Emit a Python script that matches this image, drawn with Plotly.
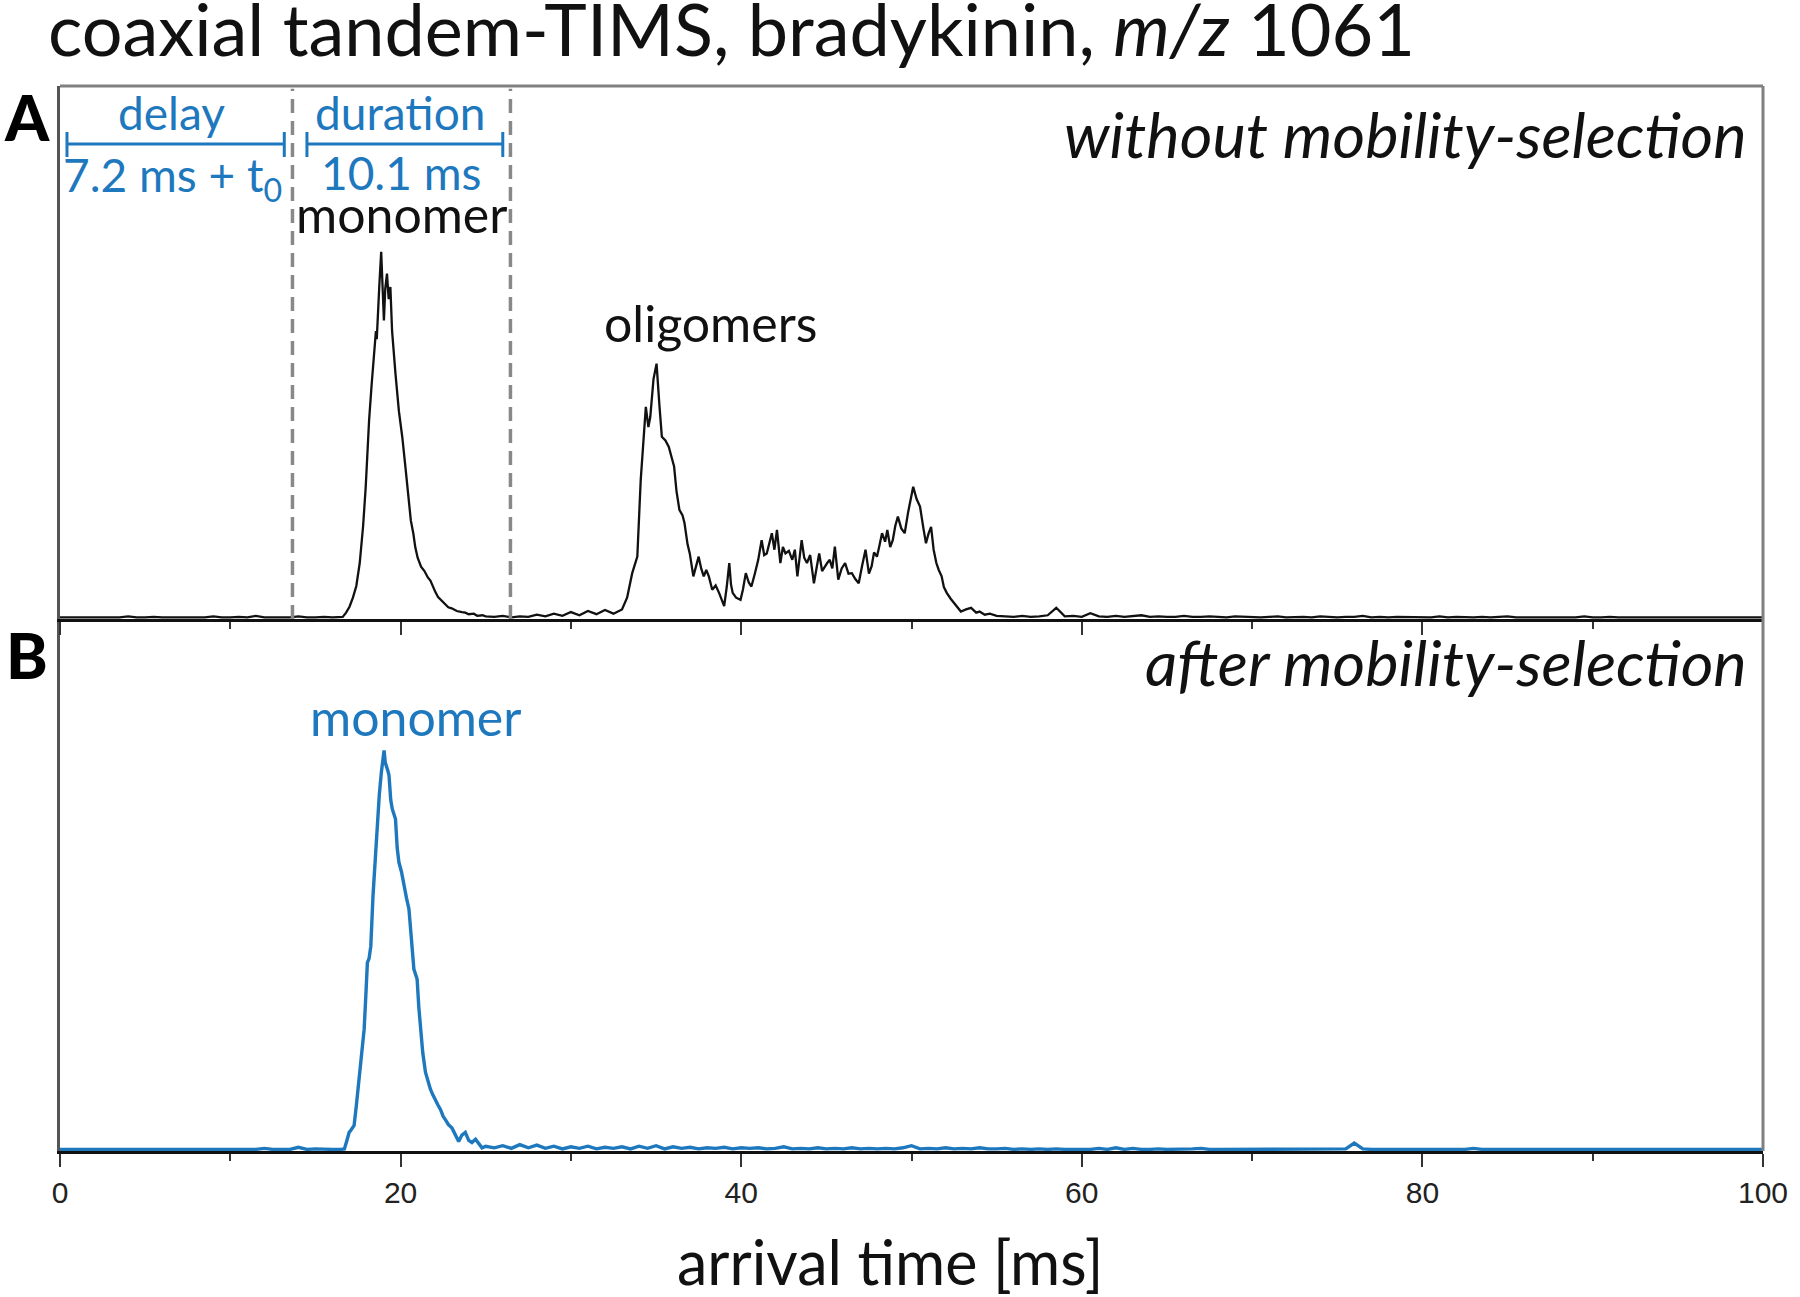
import plotly.graph_objects as go

# ---------------- data ----------------
# Panel A: arrival-time distribution without mobility selection (arb. intensity)
points_a = [
    (0.0, 0.3), (0.5, 0.3), (1.0, 0.4), (1.5, 0.3), (2.0, 0.3), (2.5, 0.4), (3.0, 0.3), (3.5, 0.3),
    (4.0, 0.5), (4.5, 0.3), (5.0, 0.3), (5.5, 0.4), (6.0, 0.3), (6.5, 0.3), (7.0, 0.3), (7.5, 0.4),
    (8.0, 0.3), (8.5, 0.3), (9.0, 0.5), (9.5, 0.3), (10.0, 0.3), (10.5, 0.4), (11.0, 0.3), (11.5, 0.6),
    (12.0, 0.3), (12.5, 0.3), (13.0, 0.4), (13.5, 0.3), (14.0, 0.5), (14.5, 0.3), (15.0, 0.3), (15.5, 0.4),
    (16.0, 0.3), (16.5, 0.4),
    (16.6, 0.4), (16.8, 1.2), (17.0, 2.3), (17.2, 4.0), (17.4, 6.2), (17.6, 10.5), (17.8, 17.5),
    (17.95, 24.7), (18.15, 37.3), (18.3, 44.0), (18.45, 50.5), (18.55, 54.0), (18.6, 52.5), (18.65, 57.0),
    (18.75, 62.5), (18.86, 68.9), (18.95, 60.0), (19.02, 56.0), (19.1, 62.0), (19.2, 64.8), (19.3, 60.0),
    (19.4, 62.3), (19.5, 54.0), (19.6, 49.5), (19.7, 46.0), (19.9, 39.0), (20.1, 34.1), (20.3, 28.0),
    (20.45, 23.0), (20.6, 18.5), (20.75, 16.0), (20.86, 13.5), (21.0, 11.5), (21.2, 9.8), (21.4, 9.0),
    (21.6, 7.8), (21.75, 7.2), (21.9, 6.0), (22.05, 5.0), (22.2, 4.1), (22.4, 3.5), (22.6, 2.8),
    (22.8, 2.2), (23.0, 2.0), (23.3, 1.5), (23.6, 1.3), (23.8, 1.2), (24.0, 0.9), (24.3, 1.0),
    (24.5, 0.6), (24.8, 0.7), (25.0, 0.5),
    (25.5, 0.4), (26.0, 0.6), (26.5, 0.3), (27.0, 0.5), (27.5, 0.4), (28.0, 0.8), (28.5, 0.5), (29.0, 1.0),
    (29.5, 0.6), (30.0, 1.3), (30.5, 0.7), (31.0, 1.5), (31.5, 0.9), (32.0, 1.7), (32.5, 1.0), (33.0, 1.8),
    (33.3, 4.0), (33.6, 8.6), (33.9, 11.7), (34.1, 26.1), (34.4, 39.8), (34.55, 36.0), (34.66, 37.9),
    (34.85, 45.0), (35.03, 47.9), (35.2, 40.0), (35.34, 34.2), (35.55, 33.5), (35.75, 32.3), (35.9, 30.5),
    (36.06, 28.6), (36.2, 24.0), (36.37, 20.5), (36.55, 19.5), (36.67, 18.0), (36.85, 14.0), (36.98, 12.3),
    (37.19, 8.0), (37.35, 10.0), (37.5, 11.7), (37.65, 9.5), (37.8, 8.0), (37.95, 9.2), (38.1, 8.0),
    (38.3, 5.5), (38.5, 6.3), (38.7, 4.9), (38.85, 3.5), (39.0, 2.4), (39.15, 6.0), (39.3, 10.5),
    (39.4, 6.5), (39.5, 4.9), (39.7, 4.0), (39.96, 3.6), (40.1, 5.5), (40.27, 8.6), (40.45, 6.8),
    (40.6, 6.1), (40.8, 8.5), (41.0, 11.1), (41.2, 14.8), (41.35, 12.0), (41.5, 12.3), (41.65, 14.5),
    (41.8, 16.1), (41.95, 13.0), (42.1, 16.7), (42.3, 10.5), (42.45, 13.5), (42.6, 12.3), (42.8, 12.8),
    (43.0, 11.1), (43.15, 13.0), (43.3, 8.0), (43.55, 14.8), (43.7, 11.5), (43.86, 10.5), (44.05, 12.0),
    (44.27, 6.7), (44.45, 10.0), (44.58, 12.3), (44.75, 9.0), (44.9, 9.9), (45.05, 10.5), (45.2, 11.1),
    (45.35, 9.5), (45.5, 13.6), (45.7, 7.4), (45.9, 9.5), (46.1, 10.5), (46.3, 8.5), (46.5, 8.6),
    (46.7, 7.5), (46.9, 6.7), (47.1, 10.0), (47.3, 13.0), (47.5, 8.5), (47.66, 9.9), (47.8, 12.5),
    (47.97, 11.7), (48.1, 13.5), (48.27, 16.1), (48.45, 14.5), (48.58, 16.7), (48.75, 13.5), (48.9, 14.8),
    (49.05, 17.5), (49.2, 19.2), (49.4, 17.0), (49.6, 16.1), (49.8, 20.0), (50.1, 24.8), (50.3, 22.5),
    (50.5, 21.1), (50.7, 17.0), (50.85, 14.2), (51.0, 16.0), (51.15, 17.3), (51.3, 13.0), (51.46, 10.5),
    (51.6, 9.2), (51.77, 8.0), (51.9, 6.0), (52.07, 4.9), (52.3, 3.8), (52.5, 3.0), (52.7, 2.2),
    (52.9, 1.4), (53.2, 1.8), (53.5, 2.1), (53.8, 1.2), (54.0, 1.4), (54.3, 0.8), (54.6, 1.0), (55.0, 0.6),
    (55.5, 0.5), (56.0, 0.4), (56.5, 0.6), (57.0, 0.4), (57.5, 0.5), (58.0, 0.7), (58.5, 2.1), (59.0, 0.5),
    (59.5, 0.6), (60.0, 0.4), (60.5, 1.1), (61.0, 0.5), (61.5, 0.4), (62.0, 0.6), (62.5, 0.4), (63.0, 0.5),
    (63.5, 0.7), (64.0, 0.4), (64.5, 0.5), (65.0, 0.4), (65.5, 0.4), (66.0, 0.6), (66.5, 0.4), (67.0, 0.4),
    (67.5, 0.5), (68.0, 0.4), (68.5, 0.3), (69.0, 0.5), (69.5, 0.4), (70.0, 0.4), (70.5, 0.3), (71.0, 0.4),
    (71.5, 0.5), (72.0, 0.3), (72.5, 0.4), (73.0, 0.4), (73.5, 0.3), (74.0, 0.5), (74.5, 0.4), (75.0, 0.3),
    (75.5, 0.4), (76.0, 0.4), (76.5, 0.6), (77.0, 0.3), (77.5, 0.4), (78.0, 0.3), (78.5, 0.4), (79.0, 0.4),
    (79.5, 0.3), (80.0, 0.4), (80.5, 0.3), (81.0, 0.5), (81.5, 0.3), (82.0, 0.4), (82.5, 0.3), (83.0, 0.3),
    (83.5, 0.4), (84.0, 0.3), (84.5, 0.4), (85.0, 0.5), (85.5, 0.3), (86.0, 0.3), (86.5, 0.4), (87.0, 0.3),
    (87.5, 0.3), (88.0, 0.4), (88.5, 0.3), (89.0, 0.3), (89.5, 0.5), (90.0, 0.3), (90.5, 0.3), (91.0, 0.4),
    (91.5, 0.3), (92.0, 0.3), (92.5, 0.3), (93.0, 0.4), (93.5, 0.3), (94.0, 0.3), (94.5, 0.4), (95.0, 0.3),
    (95.5, 0.3), (96.0, 0.3), (96.5, 0.4), (97.0, 0.3), (97.5, 0.3), (98.0, 0.3), (98.5, 0.4), (99.0, 0.3),
    (99.5, 0.3), (100.0, 0.3),
]

# Panel B: arrival-time distribution after mobility selection (arb. intensity)
points_b = [
    (0.0, 0.3), (0.5, 0.3), (1.0, 0.3), (1.5, 0.3), (2.0, 0.3), (2.5, 0.3), (3.0, 0.3), (3.5, 0.3),
    (4.0, 0.3), (4.5, 0.3), (5.0, 0.3), (5.5, 0.3), (6.0, 0.3), (6.5, 0.3), (7.0, 0.3), (7.5, 0.3),
    (8.0, 0.3), (8.5, 0.3), (9.0, 0.3), (9.5, 0.3), (10.0, 0.3), (10.5, 0.3), (11.0, 0.3), (11.5, 0.3),
    (12.0, 0.5), (12.5, 0.3), (13.0, 0.3), (13.5, 0.3), (14.0, 0.7), (14.5, 0.3), (15.0, 0.4), (15.5, 0.3),
    (16.0, 0.3), (16.5, 0.3),
    (16.7, 0.4), (16.85, 2.0), (16.98, 3.5), (17.1, 4.0), (17.27, 4.8), (17.4, 8.5), (17.56, 13.5),
    (17.7, 18.0), (17.86, 22.9), (17.97, 30.0), (18.05, 35.4), (18.15, 36.2), (18.25, 38.5), (18.38, 48.0),
    (18.5, 55.0), (18.64, 62.4), (18.75, 67.0), (18.87, 71.2), (18.95, 73.5), (19.03, 75.3), (19.1, 73.0),
    (19.16, 72.5), (19.25, 71.5), (19.32, 70.6), (19.42, 66.0), (19.51, 64.3), (19.6, 63.5), (19.7, 62.4),
    (19.8, 57.0), (19.9, 54.3), (20.05, 52.5), (20.19, 49.9), (20.35, 47.5), (20.49, 45.5), (20.65, 39.0),
    (20.78, 34.2), (20.9, 33.0), (20.97, 32.3), (21.07, 27.0), (21.17, 22.9), (21.3, 18.5), (21.46, 14.8),
    (21.6, 13.0), (21.75, 11.6), (21.9, 10.5), (22.05, 9.7), (22.2, 8.6), (22.34, 7.8), (22.5, 6.5),
    (22.63, 5.9), (22.8, 5.0), (23.02, 4.3), (23.2, 3.0), (23.41, 1.8), (23.6, 3.0), (23.8, 3.5),
    (24.0, 2.0), (24.19, 1.6), (24.4, 2.2), (24.58, 1.3), (24.78, 0.6), (25.0, 0.9),
    (25.5, 0.6), (26.0, 1.0), (26.5, 0.5), (27.0, 1.2), (27.5, 0.6), (28.0, 1.1), (28.5, 0.5), (29.0, 0.9),
    (29.5, 0.4), (30.0, 0.8), (30.5, 0.5), (31.0, 0.9), (31.5, 0.4), (32.0, 0.7), (32.5, 0.5), (33.0, 0.8),
    (33.5, 0.4), (34.0, 0.9), (34.5, 0.5), (35.0, 1.0), (35.5, 0.4), (36.0, 0.8), (36.5, 0.5), (37.0, 0.7),
    (37.5, 0.4), (38.0, 0.6), (38.5, 0.5), (39.0, 0.7), (39.5, 0.4), (40.0, 0.6), (40.5, 0.5), (41.0, 0.6),
    (41.5, 0.4), (42.0, 0.5), (42.5, 0.8), (43.0, 0.4), (43.5, 0.5), (44.0, 0.4), (44.5, 0.6), (45.0, 0.4),
    (45.5, 0.5), (46.0, 0.4), (46.5, 0.6), (47.0, 0.4), (47.5, 0.5), (48.0, 0.4), (48.5, 0.5), (49.0, 0.4),
    (49.5, 0.6), (50.0, 1.0), (50.5, 0.4), (51.0, 0.5), (51.5, 0.4), (52.0, 0.6), (52.5, 0.4), (53.0, 0.5),
    (53.5, 0.4), (54.0, 0.6), (54.5, 0.4), (55.0, 0.4), (55.5, 0.5), (56.0, 0.3), (56.5, 0.4), (57.0, 0.3),
    (57.5, 0.4), (58.0, 0.3), (58.5, 0.4), (59.0, 0.3), (59.5, 0.3), (60.0, 0.4), (60.5, 0.3), (61.0, 0.5),
    (61.5, 0.3), (62.0, 0.6), (62.5, 0.3), (63.0, 0.5), (63.5, 0.3), (64.0, 0.3), (64.5, 0.4), (65.0, 0.3),
    (65.5, 0.3), (66.0, 0.3), (66.5, 0.4), (67.0, 0.5), (67.5, 0.3), (68.0, 0.3), (68.5, 0.3), (69.0, 0.4),
    (69.5, 0.3), (70.0, 0.3), (70.5, 0.3), (71.0, 0.4), (71.5, 0.3), (72.0, 0.3), (72.5, 0.3), (73.0, 0.4),
    (73.5, 0.3), (74.0, 0.3), (74.5, 0.3), (75.0, 0.3), (75.5, 0.4), (76.0, 1.5), (76.5, 0.4), (77.0, 0.3),
    (77.5, 0.3), (78.0, 0.3), (78.5, 0.4), (79.0, 0.3), (79.5, 0.3), (80.0, 0.3), (80.5, 0.3), (81.0, 0.4),
    (81.5, 0.3), (82.0, 0.3), (82.5, 0.3), (83.0, 0.5), (83.5, 0.3), (84.0, 0.3), (84.5, 0.3), (85.0, 0.3),
    (85.5, 0.3), (86.0, 0.3), (86.5, 0.3), (87.0, 0.3), (87.5, 0.3), (88.0, 0.3), (88.5, 0.3), (89.0, 0.3),
    (89.5, 0.3), (90.0, 0.3), (90.5, 0.3), (91.0, 0.3), (91.5, 0.3), (92.0, 0.3), (92.5, 0.3), (93.0, 0.3),
    (93.5, 0.3), (94.0, 0.3), (94.5, 0.3), (95.0, 0.3), (95.5, 0.3), (96.0, 0.3), (96.5, 0.3), (97.0, 0.3),
    (97.5, 0.3), (98.0, 0.3), (98.5, 0.3), (99.0, 0.3), (99.5, 0.3), (100.0, 0.3),
]

time_a = [p[0] for p in points_a]
signal_a = [p[1] for p in points_a]
time_b = [p[0] for p in points_b]
signal_b = [p[1] for p in points_b]

x_tickvals = [0, 20, 40, 60, 80, 100]
x_ticktext = ["0", "20", "40", "60", "80", "100"]

gate_open_ms = 13.65     # dashed line: start of selection window
gate_close_ms = 26.45    # dashed line: end of selection window
delay_span = (0.41, 13.17)
duration_span = (14.5, 26.0)

title_text = "coaxial tandem-TIMS, bradykinin, <i>m/z</i> 1061"
xaxis_title = "arrival time [ms]"

# ---------------- styling ----------------
BLUE = "#1e78be"
FONT = "Lato"
W, H = 1800, 1297
ML, MR, MT, MB = 60, 29, 86, 146
plot_h = H - MT - MB
split = 532 / plot_h  # panel B height fraction
ASC = 0.375           # baseline offset below box centre (fraction of font size)


def py(fy):
    """figure pixel y -> paper y"""
    return (H - MB - fy) / plot_h


def px(fx):
    """figure pixel x -> paper x"""
    return (fx - ML) / (W - ML - MR)


def base(fy, size, extra=0.0):
    """paper y of a box centre whose text baseline sits at figure pixel fy"""
    return py(fy - ASC * size + extra)


def ady(fy):
    """figure pixel y -> panel A domain fraction"""
    bot = H - MB - 532
    return (bot - fy) / (bot - MT)


fig = go.Figure()
fig.add_trace(go.Scatter(x=time_a, y=signal_a, xaxis="x2", yaxis="y2", mode="lines",
                         line=dict(color="#111111", width=2.3), showlegend=False, hoverinfo="skip"))
fig.add_trace(go.Scatter(x=time_b, y=signal_b, xaxis="x", yaxis="y", mode="lines",
                         line=dict(color=BLUE, width=3.4), showlegend=False, hoverinfo="skip"))

axis_common = dict(range=[0, 100], showgrid=False, zeroline=False, showline=True,
                   linecolor="#111111", linewidth=2.5, ticks="outside", ticklen=13, tickwidth=2,
                   tickcolor="#333333", tickvals=x_tickvals,
                   minor=dict(dtick=10, tick0=0, ticks="outside", ticklen=7, tickwidth=2,
                              tickcolor="#333333"))

fig.update_layout(
    width=W, height=H,
    margin=dict(l=ML, r=MR, t=MT, b=MB),
    paper_bgcolor="white", plot_bgcolor="white",
    xaxis=dict(**axis_common, anchor="y", domain=[0, 1], ticktext=x_ticktext,
               ticklabeloverflow="allow",
               tickfont=dict(family="Liberation Sans", size=30, color="#222222")),
    xaxis2=dict(**axis_common, anchor="y2", domain=[0, 1], matches="x", showticklabels=False),
    yaxis=dict(domain=[0, split], range=[0, 100], showgrid=False, zeroline=False,
               showticklabels=False, ticks="", showline=True, linecolor="#555555",
               linewidth=2.5),
    yaxis2=dict(domain=[split, 1], range=[0, 100], showgrid=False, zeroline=False,
                showticklabels=False, ticks="", showline=True, linecolor="#555555",
                linewidth=2.5),
)

shapes = []
# top and right border (grey)
shapes.append(dict(type="line", xref="paper", yref="paper", x0=0, x1=1, y0=1, y1=1,
                   line=dict(color="#808080", width=3)))
shapes.append(dict(type="line", xref="paper", yref="paper", x0=1, x1=1, y0=0, y1=1,
                   line=dict(color="#808080", width=3)))
# dashed gate lines
for g in (gate_open_ms, gate_close_ms):
    shapes.append(dict(type="line", xref="x2", yref="y2 domain", x0=g, x1=g, y0=0, y1=0.995,
                       line=dict(color="#888888", width=3.5, dash="14px,8px")))
# brackets
for (a, b) in (delay_span, duration_span):
    shapes.append(dict(type="line", xref="x2", yref="y2 domain", x0=a, x1=b,
                       y0=ady(144), y1=ady(144), line=dict(color=BLUE, width=3)))
    for e in (a, b):
        shapes.append(dict(type="line", xref="x2", yref="y2 domain", x0=e, x1=e,
                           y0=ady(132), y1=ady(157), line=dict(color=BLUE, width=3)))
fig.update_layout(shapes=shapes)


def label(text, x, y, size, color="#111111", xref="paper", xanchor="center", weight=None):
    f = dict(family=FONT, size=size, color=color)
    if weight:
        f["weight"] = weight
    return dict(text=text, xref=xref, yref="paper", x=x, y=y, xanchor=xanchor,
                yanchor="middle", showarrow=False, font=f)


ann = [
    label(title_text, px(46), base(55, 72), 72, xanchor="left"),
    label(xaxis_title, px(894), base(1284, 61), 61),
    label("A", px(26.5), base(140, 63), 63, color="#000000", weight=900),
    label("B", px(27), base(678, 63), 63, color="#000000", weight=900),
    label("delay", 6.53, base(130, 46), 46, color=BLUE, xref="x2"),
    label("7.2 ms + t<sub>0</sub>", 6.58, base(190, 46, 5.4), 46, color=BLUE, xref="x2"),
    label("duration", 19.95, base(130, 46), 46, color=BLUE, xref="x2"),
    label("10.1 ms", 20.04, base(190, 46), 46, color=BLUE, xref="x2"),
    label("monomer", 20.04, base(233, 50), 50, xref="x2"),
    label("oligomers", 38.18, base(342, 50), 50, xref="x2"),
    label("monomer", 20.86, base(736, 50), 50, color=BLUE, xref="x"),
    label("<i>without mobility-selection</i>", px(1757), base(157, 63), 63, xanchor="right"),
    label("<i>after mobility-selection</i>", px(1757), base(685, 63), 63, xanchor="right"),
]
fig.update_layout(annotations=ann)

# remove the default page margin so the figure sits at the window's top-left corner
fig.write_html("out.html", config={"displayModeBar": False},
               post_script="document.body.style.margin='0px';"
                           "document.body.style.overflow='hidden';")
